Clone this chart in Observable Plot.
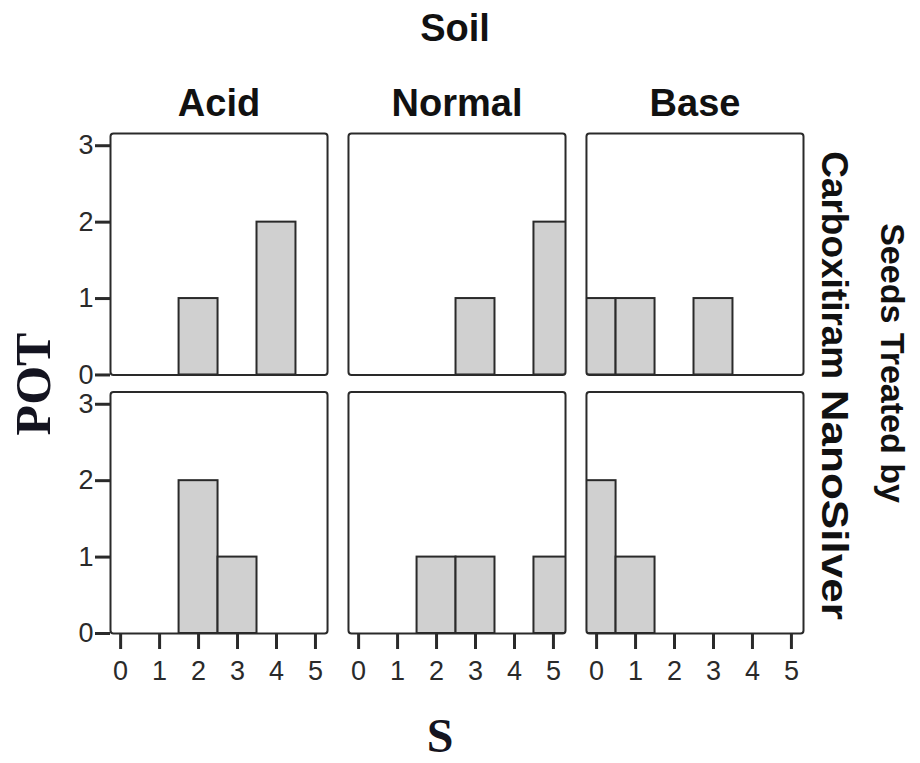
<!DOCTYPE html>
<html>
<head>
<meta charset="utf-8">
<script src="https://cdn.jsdelivr.net/npm/d3@7"></script>
<script src="https://cdn.jsdelivr.net/npm/@observablehq/plot@0.6"></script>
<style>
  html, body { margin: 0; padding: 0; background: #fff; }
</style>
</head>
<body>
<div id="chart"></div>
<script>
// Facet categories
const soils = ["Acid", "Normal", "Base"];
const treatments = ["Carboxitiram", "NanoSilver"];
// S values (x axis)
const sValues = [0, 1, 2, 3, 4, 5];
const potTicks = [0, 1, 2, 3];

// Counts (POT) for each S value 0..5
const acidCarboxitiram   = [0, 0, 1, 0, 2, 0];
const normalCarboxitiram = [0, 0, 0, 1, 0, 2];
const baseCarboxitiram   = [1, 1, 0, 1, 0, 0];
const acidNanoSilver     = [0, 0, 2, 1, 0, 0];
const normalNanoSilver   = [0, 0, 1, 1, 0, 1];
const baseNanoSilver     = [2, 1, 0, 0, 0, 0];

const series = [
  ["Acid", "Carboxitiram", acidCarboxitiram],
  ["Normal", "Carboxitiram", normalCarboxitiram],
  ["Base", "Carboxitiram", baseCarboxitiram],
  ["Acid", "NanoSilver", acidNanoSilver],
  ["Normal", "NanoSilver", normalNanoSilver],
  ["Base", "NanoSilver", baseNanoSilver]
];

const rows = [];
for (const [soil, treatment, counts] of series) {
  counts.forEach((c, i) => {
    if (c > 0) rows.push({soil, treatment, s: sValues[i], count: c});
  });
}

const W = 920, H = 763;
const sansBold = "'Liberation Sans', Arial, sans-serif";

const svg = Plot.plot({
  width: W,
  height: H,
  marginLeft: 110,
  marginRight: 117,
  marginTop: 133,
  marginBottom: 130,
  style: {fontFamily: sansBold, color: "#2a2a2a", background: "#fff", overflow: "visible"},
  fx: {domain: soils, paddingInner: 0.088, paddingOuter: 0, round: false, label: null},
  fy: {domain: treatments, paddingInner: 0.066, paddingOuter: 0, round: false, label: null},
  x: {domain: [-0.26, 5.31], label: null},
  y: {domain: [0, 3.16], label: null},
  marks: [
    Plot.rectY(rows, {
      x1: d => d.s - 0.5,
      x2: d => d.s + 0.5,
      y: "count",
      fx: "soil",
      fy: "treatment",
      fill: "#d0d0d0",
      stroke: "#2a2a2a",
      strokeWidth: 2,
      clip: true
    }),
    Plot.frame({stroke: "#2a2a2a", strokeWidth: 2, rx: 3}),
    Plot.axisX({ticks: sValues, tickSize: 16, tickPadding: 11, fontSize: 27, strokeWidth: 3, label: null, tickFormat: d3.format("d")}),
    Plot.axisY({ticks: potTicks, tickSize: 15, tickPadding: 2, fontSize: 27, strokeWidth: 3, label: null, tickFormat: d3.format("d")}),
    Plot.axisFx({anchor: "top", tickSize: 0, tickPadding: 18, fontSize: 38, fontWeight: "bold", fill: "#111", label: null}),
    Plot.axisFy({anchor: "right", tickSize: 0, tickPadding: 30, tickRotate: 90, textAnchor: "middle", lineAnchor: "middle", fontSize: 37, fontWeight: "bold", fill: "#111", label: null})
  ]
});

const sel = d3.select(svg);

// Tick-label size as in the reference
sel.selectAll('g[aria-label="x-axis tick label"] text, g[aria-label="y-axis tick label"] text')
  .style("font-size", "27px")
  .style("fill", "#2a2a2a");

// Match the row-label lengths and positions of the reference
const fyAdjust = {Carboxitiram: {len: 228, dx: 11}, NanoSilver: {len: 230, dx: -8}};
sel.selectAll('g[aria-label="fy-axis tick label"] text').each(function () {
  const a = fyAdjust[this.textContent];
  if (a) {
    d3.select(this)
      .attr("textLength", a.len)
      .attr("lengthAdjust", "spacingAndGlyphs")
      .attr("dx", a.dx);
  }
});

// Overall titles
sel.append("text")
  .attr("x", 455).attr("y", 41)
  .attr("text-anchor", "middle")
  .attr("font-family", sansBold).attr("font-weight", "bold").attr("font-size", 38)
  .attr("fill", "#111")
  .text("Soil");

sel.append("text")
  .attr("transform", "translate(881,363) rotate(90)")
  .attr("text-anchor", "middle")
  .attr("font-family", sansBold).attr("font-weight", "bold").attr("font-size", 34)
  .attr("fill", "#111")
  .text("Seeds Treated by");

sel.append("text")
  .attr("transform", "translate(50,384) rotate(-90)")
  .attr("text-anchor", "middle")
  .attr("font-family", "'Liberation Serif', 'Times New Roman', serif").attr("font-weight", "bold").attr("font-size", 50)
  .attr("fill", "#141420")
  .text("POT");

sel.append("text")
  .attr("x", 440).attr("y", 752)
  .attr("text-anchor", "middle")
  .attr("font-family", "'Liberation Serif', 'Times New Roman', serif").attr("font-weight", "bold").attr("font-size", 48)
  .attr("fill", "#141420")
  .text("S");

document.getElementById("chart").appendChild(svg);
</script>
</body>
</html>
